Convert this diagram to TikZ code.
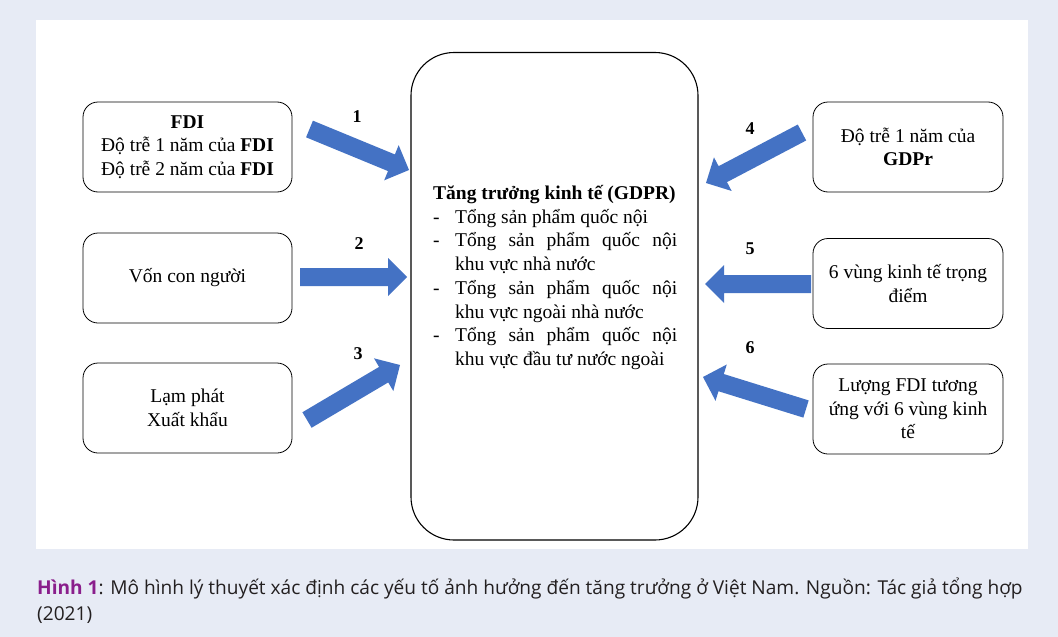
\documentclass[tikz,border=0pt]{standalone}
\usepackage{fontspec}
\setmainfont{Liberation Serif}
\newfontfamily\capfont{Open Sans}
\usetikzlibrary{calc}
\definecolor{pagebg}{HTML}{E7EBF5}
\definecolor{arrowblue}{HTML}{4472C4}
\definecolor{capgray}{HTML}{231F20}
\definecolor{cappurple}{HTML}{8A1E8C}
\newcommand\blockarrow[3]{%
  \coordinate (#3b) at ($(#2)!19pt!(#1)$);
  \fill[arrowblue] ($(#1)!9pt!90:(#2)$) -- ($(#3b)!9pt!90:(#2)$) -- ($(#3b)!19pt!90:(#2)$) -- (#2)
    -- ($(#3b)!19pt!-90:(#2)$) -- ($(#3b)!9pt!-90:(#2)$) -- ($(#1)!9pt!-90:(#2)$) -- cycle;
}
\begin{document}
\begin{tikzpicture}[x=1pt,y=-1pt,
  box/.style={draw=black, line width=0.8pt, rounded corners=15pt, align=center, inner sep=0pt,
    font=\fontsize{19.5}{23.6}\selectfont},
  lbox/.style={box, minimum width=209pt, minimum height=90pt},
  rbox/.style={box, minimum width=190pt, minimum height=90pt},
  numlab/.style={font=\fontsize{18}{20}\selectfont\bfseries, inner sep=0pt},
  cline/.style={anchor=base west, inner sep=0pt, font=\fontsize{19.5}{23.6}\selectfont},
  caption/.style={anchor=base west, inner sep=0pt, text=capgray, font=\capfont\fontsize{19.1}{22}\selectfont}
]
\fill[pagebg] (0,0) rectangle (1058,637);
\fill[white] (36,20) rectangle (1028,549);
\useasboundingbox (0,0) rectangle (1058,637);

% centre box
\node[draw=black, line width=1.1pt, rounded corners=43pt, minimum width=287pt, minimum height=487.5pt, inner sep=0pt] (gdp) at (554.5,296.25) {};
\node[cline] (c0) at (433,199.5) {\bfseries Tăng trưởng kinh tế (GDPR)};
\node[cline] (c1) at (433,223.2) {\makebox[22pt][l]{-}Tổng sản phẩm quốc nội};
\node[cline] (c2) at (433,246.9) {\makebox[22pt][l]{-}\hbox to 222pt{Tổng\hfill sản\hfill phẩm\hfill quốc\hfill nội}};
\node[cline] (c3) at (455,270.6) {khu vực nhà nước};
\node[cline] (c4) at (433,294.3) {\makebox[22pt][l]{-}\hbox to 222pt{Tổng\hfill sản\hfill phẩm\hfill quốc\hfill nội}};
\node[cline] (c5) at (455,318.0) {khu vực ngoài nhà nước};
\node[cline] (c6) at (433,341.7) {\makebox[22pt][l]{-}\hbox to 222pt{Tổng\hfill sản\hfill phẩm\hfill quốc\hfill nội}};
\node[cline] (c7) at (455,365.4) {khu vực đầu tư nước ngoài};

% left boxes
\node[lbox] (l1) at (187.5,147) {\textbf{FDI}\\Độ trễ 1 năm của \textbf{FDI}\\Độ trễ 2 năm của \textbf{FDI}};
\node[lbox] (l2) at (187.5,278) {Vốn con người};
\node[lbox] (l3) at (187.5,408) {Lạm phát\\Xuất khẩu};
% right boxes
\node[rbox] (r4) at (908,147) {Độ trễ 1 năm của\\\textbf{GDPr}};
\node[rbox] (r5) at (908,283.5) {6 vùng kinh tế trọng\\điểm};
\node[rbox] (r6) at (908,409) {Lượng FDI tương\\ứng với 6 vùng kinh\\tế};

% arrows
\coordinate (t1) at (309.5,129);  \coordinate (h1) at (409,170);
\coordinate (t2) at (300,277);    \coordinate (h2) at (407,277);
\coordinate (t3) at (307,420);    \coordinate (h3) at (400,365);
\coordinate (t4) at (802,132.5);  \coordinate (h4) at (706,183);
\coordinate (t5) at (811,284);    \coordinate (h5) at (705,284);
\coordinate (t6) at (806,409);    \coordinate (h6) at (703,377);
\blockarrow{t1}{h1}{a1}
\blockarrow{t2}{h2}{a2}
\blockarrow{t3}{h3}{a3}
\blockarrow{t4}{h4}{a4}
\blockarrow{t5}{h5}{a5}
\blockarrow{t6}{h6}{a6}

% numbers
\node[numlab] (n1) at (357,117) {1};
\node[numlab] (n2) at (359,244) {2};
\node[numlab] (n3) at (358,354) {3};
\node[numlab] (n4) at (750,129) {4};
\node[numlab] (n5) at (750,249) {5};
\node[numlab] (n6) at (750,348) {6};

% caption
\node[caption] (cap1) at (37,594) {{\color{cappurple}\bfseries Hình 1}: Mô hình lý thuyết xác định các yếu tố ảnh hưởng đến tăng trưởng ở Việt Nam. Nguồn: Tác giả tổng hợp};
\node[caption] (cap2) at (37,620) {(2021)};
\end{tikzpicture}
\end{document}
